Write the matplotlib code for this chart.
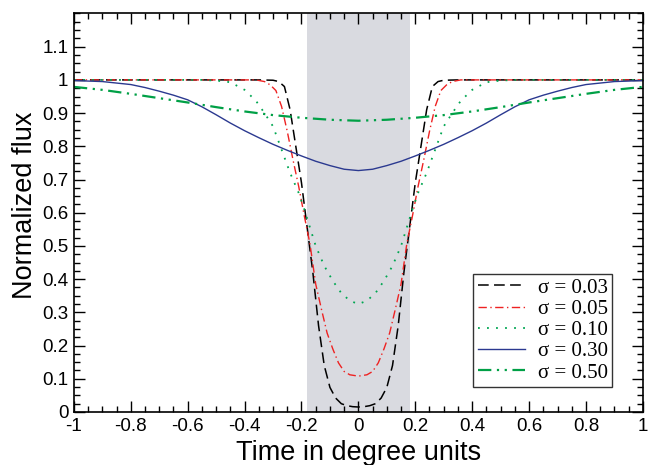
import matplotlib
matplotlib.use("Agg")
import matplotlib.pyplot as plt
from matplotlib.ticker import MultipleLocator, FuncFormatter

# sigma = 0.03
x1 = [-1, -0.35, -0.30, -0.28, -0.26, -0.24, -0.22, -0.20, -0.18, -0.16, -0.14, -0.12, -0.10, -0.08, -0.06, -0.04, -0.02, 0,
      0.02, 0.04, 0.06, 0.08, 0.10, 0.12, 0.14, 0.16, 0.18, 0.20, 0.22, 0.24, 0.26, 0.28, 0.30, 0.35, 1]
y1 = [1, 1, 0.999, 0.995, 0.98, 0.91, 0.80, 0.69, 0.555, 0.42, 0.26, 0.14, 0.074, 0.042, 0.025, 0.019, 0.016, 0.015,
      0.016, 0.019, 0.025, 0.042, 0.074, 0.14, 0.26, 0.42, 0.555, 0.69, 0.80, 0.91, 0.98, 0.995, 0.999, 1, 1]

# sigma = 0.05
x2 = [-1, -0.36, -0.33, -0.31, -0.29, -0.27, -0.25, -0.23, -0.21, -0.19, -0.17, -0.15, -0.13, -0.11, -0.09, -0.07, -0.05, -0.03, 0,
      0.03, 0.05, 0.07, 0.09, 0.11, 0.13, 0.15, 0.17, 0.19, 0.21, 0.23, 0.25, 0.27, 0.29, 0.31, 0.33, 0.36, 1]
y2 = [1, 1, 0.995, 0.985, 0.968, 0.92, 0.845, 0.76, 0.68, 0.59, 0.505, 0.385, 0.31, 0.238, 0.19, 0.148, 0.122, 0.112, 0.108,
      0.112, 0.122, 0.148, 0.19, 0.238, 0.31, 0.385, 0.505, 0.59, 0.68, 0.76, 0.845, 0.92, 0.968, 0.985, 0.995, 1, 1]

# sigma = 0.10
x3 = [-1, -0.55, -0.50, -0.45, -0.40, -0.36, -0.33, -0.30, -0.27, -0.24, -0.21, -0.19, -0.17, -0.15, -0.12, -0.09, -0.06, -0.03, 0,
      0.03, 0.06, 0.09, 0.12, 0.15, 0.17, 0.19, 0.21, 0.24, 0.27, 0.30, 0.33, 0.36, 0.40, 0.45, 0.50, 0.55, 1]
y3 = [1, 1, 0.998, 0.993, 0.97, 0.937, 0.90, 0.86, 0.79, 0.72, 0.66, 0.61, 0.555, 0.50, 0.44, 0.395, 0.358, 0.335, 0.325,
      0.335, 0.358, 0.395, 0.44, 0.50, 0.555, 0.61, 0.66, 0.72, 0.79, 0.86, 0.90, 0.937, 0.97, 0.993, 0.998, 1, 1]

# sigma = 0.30
x4 = [-1, -0.9, -0.8, -0.75, -0.7, -0.65, -0.6, -0.55, -0.5, -0.45, -0.4, -0.35, -0.3, -0.25, -0.2, -0.15, -0.1, -0.05, 0,
      0.05, 0.1, 0.15, 0.2, 0.25, 0.3, 0.35, 0.4, 0.45, 0.5, 0.55, 0.6, 0.65, 0.7, 0.75, 0.8, 0.9, 1]
y4 = [0.998, 0.995, 0.986, 0.977, 0.966, 0.954, 0.94, 0.919, 0.895, 0.87, 0.847, 0.826, 0.806, 0.788, 0.771, 0.755, 0.742, 0.731, 0.727,
      0.731, 0.742, 0.755, 0.771, 0.788, 0.806, 0.826, 0.847, 0.87, 0.895, 0.919, 0.94, 0.954, 0.966, 0.977, 0.986, 0.995, 0.998]

# sigma = 0.50
x5 = [-1, -0.9, -0.8, -0.7, -0.6, -0.5, -0.4, -0.3, -0.2, -0.1, 0,
      0.1, 0.2, 0.3, 0.4, 0.5, 0.6, 0.7, 0.8, 0.9, 1]
y5 = [0.979, 0.97, 0.958, 0.945, 0.932, 0.918, 0.905, 0.894, 0.886, 0.88, 0.877,
      0.88, 0.886, 0.894, 0.905, 0.918, 0.932, 0.945, 0.958, 0.97, 0.979]

labels = ["σ = 0.03", "σ = 0.05", "σ = 0.10", "σ = 0.30", "σ = 0.50"]
band = [-0.18, 0.18]

plt.rcParams['font.family'] = ['Liberation Sans', 'DejaVu Sans']

fig = plt.figure(figsize=(6.6, 4.65), dpi=100)
ax = fig.add_axes([0.112, 0.114, 0.862, 0.857])

ax.axvspan(band[0], band[1], color='#d9dae0', lw=0, zorder=0)

ax.plot(x1, y1, color='black', lw=1.1, dashes=(7, 3.5), label=labels[0])
ax.plot(x2, y2, color='#ee2222', lw=1.0, dashes=(6, 2.5, 1, 2.5), label=labels[1])
ax.plot(x3, y3, color='#00a651', lw=1.3, dashes=(1, 4), label=labels[2])
ax.plot(x4, y4, color='#2b3990', lw=1.0, label=labels[3])
ax.plot(x5, y5, color='#00a046', lw=1.6, dashes=(6, 2.5, 1, 2.5, 1, 2.5), label=labels[4])

ax.set_xlim(-1, 1)
ax.set_ylim(0, 1.2)
ax.xaxis.set_major_locator(MultipleLocator(0.2))
ax.xaxis.set_minor_locator(MultipleLocator(0.05))
ax.set_yticks([0, 0.1, 0.2, 0.3, 0.4, 0.5, 0.6, 0.7, 0.8, 0.9, 1.0, 1.1])
ax.yaxis.set_minor_locator(MultipleLocator(0.025))

fmt = FuncFormatter(lambda v, p: '%g' % round(v, 2) if abs(v) > 1e-9 else '0')
ax.xaxis.set_major_formatter(fmt)
ax.yaxis.set_major_formatter(fmt)

ax.tick_params(which='both', direction='in', top=True, right=True, width=1.0, labelsize=13.5)
ax.tick_params(which='major', length=8, pad=4)
ax.tick_params(which='minor', length=4)
for s in ax.spines.values():
    s.set_linewidth(1.2)

ax.set_xlabel('Time in degree units', fontsize=19.5, labelpad=4)
ax.set_ylabel('Normalized flux', fontsize=19.5)
ax.yaxis.set_label_coords(-0.064, 0.52)

leg = ax.legend(loc='lower right', bbox_to_anchor=(0.946, 0.063), prop={'family': 'Liberation Serif', 'size': 15},
                frameon=True, fancybox=False, handlelength=2.3, labelspacing=0.08, borderpad=0.2,
                handletextpad=0.6, borderaxespad=0)
leg.get_frame().set_edgecolor('black')
leg.get_frame().set_linewidth(1.0)

fig.savefig('out.png', dpi=100)
